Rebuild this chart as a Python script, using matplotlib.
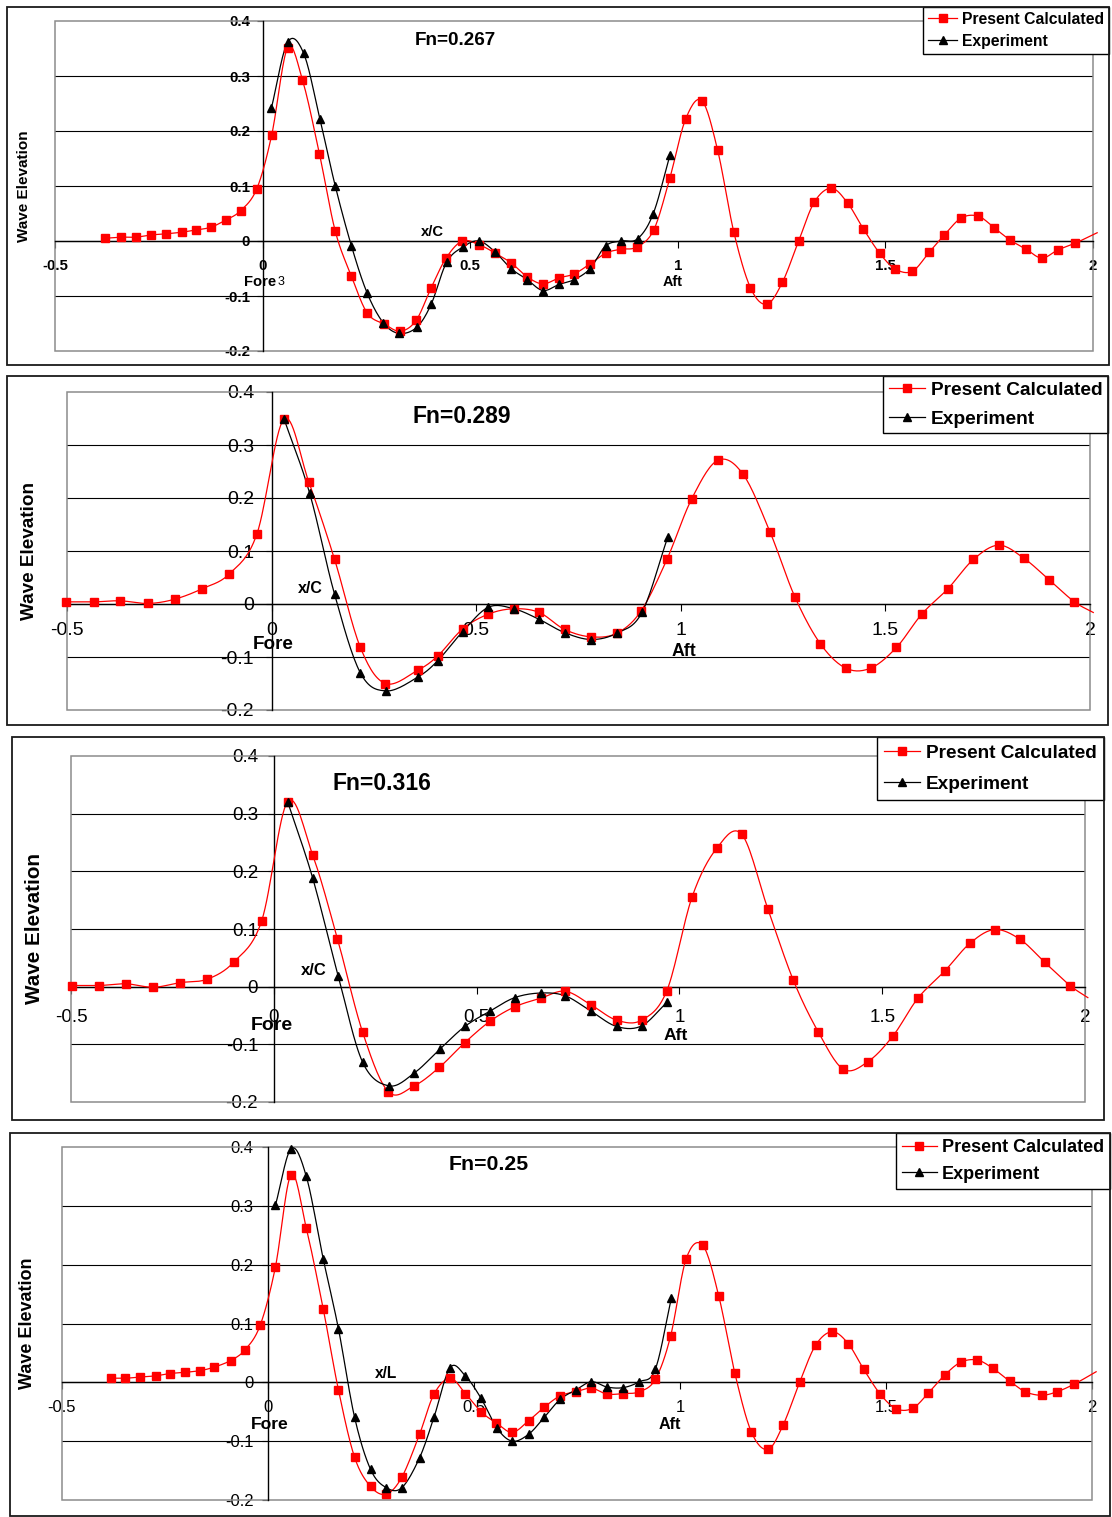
import numpy as np
import matplotlib
matplotlib.use('Agg')
import matplotlib.pyplot as plt
from matplotlib.patches import Rectangle
from matplotlib.lines import Line2D

plt.rcParams['font.family'] = ['Liberation Sans', 'DejaVu Sans']
plt.rcParams['axes.unicode_minus'] = False

W, H = 1112, 1517

# ---- data ----
x_ticks = [-0.5, 0, 0.5, 1, 1.5, 2]
x_tick_labels = ['-0.5', '0', '0.5', '1', '1.5', '2']
y_ticks = [-0.2, -0.1, 0, 0.1, 0.2, 0.3, 0.4]
y_tick_labels = ['-0.2', '-0.1', '0', '0.1', '0.2', '0.3', '0.4']
series_labels = ['Present Calculated', 'Experiment']

# Fn=0.267
fn267_calc_x = [-0.380, -0.341, -0.305, -0.269, -0.233, -0.195, -0.161, -0.125, -0.089, -0.053,
                -0.014, 0.022, 0.060, 0.096, 0.137, 0.175, 0.214, 0.252, 0.293, 0.332,
                0.370, 0.406, 0.442, 0.481, 0.522, 0.560, 0.599, 0.637, 0.675, 0.714,
                0.750, 0.788, 0.827, 0.863, 0.901, 0.942, 0.981, 1.019, 1.058, 1.096,
                1.135, 1.175, 1.214, 1.252, 1.291, 1.329, 1.370, 1.409, 1.447, 1.486,
                1.524, 1.565, 1.606, 1.642, 1.683, 1.724, 1.762, 1.800, 1.839, 1.877,
                1.916, 1.957]
fn267_calc_y = [0.005, 0.007, 0.007, 0.011, 0.013, 0.016, 0.020, 0.025, 0.038, 0.055,
                0.095, 0.193, 0.351, 0.293, 0.158, 0.018, -0.064, -0.131, -0.151, -0.164,
                -0.144, -0.085, -0.031, 0.000, -0.007, -0.022, -0.040, -0.065, -0.078, -0.067,
                -0.060, -0.042, -0.022, -0.015, -0.011, 0.020, 0.115, 0.222, 0.255, 0.165,
                0.016, -0.085, -0.115, -0.075, 0.000, 0.071, 0.096, 0.069, 0.022, -0.022,
                -0.051, -0.055, -0.020, 0.011, 0.042, 0.045, 0.024, 0.002, -0.015, -0.031,
                -0.016, -0.004]
fn267_calc_tail = (2.01, 0.015)
fn267_exp_x = [0.021, 0.060, 0.099, 0.138, 0.175, 0.214, 0.252, 0.291, 0.329, 0.371,
               0.406, 0.443, 0.482, 0.521, 0.560, 0.598, 0.637, 0.675, 0.714, 0.751,
               0.789, 0.826, 0.864, 0.903, 0.941, 0.981]
fn267_exp_y = [0.241, 0.361, 0.341, 0.222, 0.100, -0.009, -0.095, -0.149, -0.168, -0.157,
               -0.115, -0.039, -0.011, 0.000, -0.020, -0.050, -0.070, -0.090, -0.079, -0.070,
               -0.050, -0.009, 0.000, 0.004, 0.050, 0.156]

# Fn=0.289
fn289_calc_x = [-0.503, -0.434, -0.370, -0.302, -0.237, -0.169, -0.103, -0.036, 0.030, 0.091,
                0.154, 0.217, 0.278, 0.357, 0.406, 0.467, 0.530, 0.592, 0.654, 0.716,
                0.781, 0.844, 0.903, 0.966, 1.027, 1.090, 1.152, 1.218, 1.279, 1.341,
                1.403, 1.464, 1.527, 1.589, 1.653, 1.715, 1.777, 1.839, 1.901, 1.962]
fn289_calc_y = [0.004, 0.004, 0.006, 0.001, 0.009, 0.029, 0.057, 0.132, 0.349, 0.230,
                0.084, -0.082, -0.150, -0.125, -0.098, -0.047, -0.019, -0.009, -0.016, -0.048,
                -0.062, -0.055, -0.013, 0.084, 0.199, 0.271, 0.245, 0.136, 0.013, -0.075,
                -0.121, -0.121, -0.082, -0.019, 0.029, 0.084, 0.111, 0.086, 0.045, 0.004]
fn289_calc_tail = (2.008, -0.016)
fn289_exp_x = [0.030, 0.093, 0.154, 0.217, 0.280, 0.357, 0.406, 0.467, 0.530, 0.592,
               0.654, 0.716, 0.781, 0.844, 0.905, 0.968]
fn289_exp_y = [0.350, 0.209, 0.018, -0.130, -0.164, -0.138, -0.107, -0.052, -0.006, -0.009,
               -0.029, -0.054, -0.067, -0.055, -0.016, 0.126]

# Fn=0.316
fn316_calc_x = [-0.497, -0.430, -0.365, -0.297, -0.231, -0.164, -0.098, -0.030, 0.034, 0.096,
                0.157, 0.219, 0.282, 0.346, 0.408, 0.471, 0.533, 0.594, 0.658, 0.719,
                0.783, 0.845, 0.907, 0.969, 1.031, 1.092, 1.154, 1.218, 1.281, 1.342,
                1.404, 1.465, 1.527, 1.588, 1.654, 1.716, 1.777, 1.840, 1.901, 1.963]
fn316_calc_y = [0.002, 0.002, 0.005, -0.001, 0.007, 0.013, 0.043, 0.114, 0.321, 0.228,
                0.083, -0.079, -0.182, -0.172, -0.140, -0.097, -0.060, -0.035, -0.020, -0.008,
                -0.032, -0.058, -0.058, -0.007, 0.155, 0.240, 0.264, 0.135, 0.011, -0.078,
                -0.143, -0.130, -0.085, -0.020, 0.027, 0.075, 0.099, 0.082, 0.042, 0.002]
fn316_calc_tail = (2.007, -0.019)
fn316_exp_x = [0.034, 0.096, 0.159, 0.219, 0.284, 0.346, 0.410, 0.471, 0.534, 0.594,
               0.658, 0.719, 0.783, 0.845, 0.907, 0.969]
fn316_exp_y = [0.321, 0.188, 0.018, -0.131, -0.172, -0.150, -0.108, -0.069, -0.042, -0.019,
               -0.011, -0.016, -0.043, -0.069, -0.068, -0.027]

# Fn=0.25
fn250_calc_x = [-0.382, -0.346, -0.311, -0.273, -0.237, -0.202, -0.164, -0.130, -0.091, -0.056,
                -0.019, 0.018, 0.056, 0.093, 0.134, 0.171, 0.210, 0.249, 0.287, 0.325,
                0.368, 0.403, 0.442, 0.479, 0.517, 0.554, 0.593, 0.633, 0.671, 0.709,
                0.747, 0.785, 0.823, 0.862, 0.901, 0.940, 0.977, 1.015, 1.055, 1.094,
                1.133, 1.173, 1.213, 1.250, 1.291, 1.329, 1.369, 1.408, 1.446, 1.486,
                1.525, 1.565, 1.603, 1.642, 1.681, 1.721, 1.759, 1.800, 1.838, 1.878,
                1.915, 1.957]
fn250_calc_y = [0.007, 0.007, 0.009, 0.011, 0.015, 0.017, 0.020, 0.026, 0.037, 0.055,
                0.097, 0.196, 0.353, 0.262, 0.125, -0.013, -0.127, -0.177, -0.190, -0.161,
                -0.088, -0.020, 0.007, -0.019, -0.050, -0.069, -0.085, -0.065, -0.042, -0.023,
                -0.016, -0.010, -0.020, -0.019, -0.016, 0.005, 0.078, 0.210, 0.233, 0.147,
                0.016, -0.084, -0.114, -0.073, 0.001, 0.063, 0.086, 0.066, 0.022, -0.020,
                -0.045, -0.044, -0.018, 0.012, 0.034, 0.038, 0.024, 0.002, -0.016, -0.022,
                -0.016, -0.003]
fn250_calc_tail = (2.01, 0.018)
fn250_exp_x = [0.018, 0.056, 0.093, 0.134, 0.171, 0.210, 0.249, 0.287, 0.325, 0.368,
               0.403, 0.442, 0.479, 0.517, 0.556, 0.593, 0.633, 0.671, 0.709, 0.747,
               0.785, 0.823, 0.862, 0.901, 0.940, 0.979]
fn250_exp_y = [0.301, 0.397, 0.350, 0.210, 0.091, -0.059, -0.148, -0.179, -0.179, -0.128,
               -0.059, 0.025, 0.011, -0.027, -0.078, -0.100, -0.088, -0.059, -0.029, -0.013,
               0.001, -0.008, -0.009, 0.001, 0.022, 0.143]


def smooth(x, y, steps=16):
    # excel style smoothed line (catmull-rom through the points)
    x = np.asarray(x, float)
    y = np.asarray(y, float)
    px = np.r_[2 * x[0] - x[1], x, 2 * x[-1] - x[-2]]
    py = np.r_[2 * y[0] - y[1], y, 2 * y[-1] - y[-2]]
    t = np.linspace(0, 1, steps, endpoint=False)[:, None]

    def cr(p):
        p0, p1, p2, p3 = p[:-3], p[1:-2], p[2:-1], p[3:]
        return 0.5 * (2 * p1 + (p2 - p0) * t + (2 * p0 - 5 * p1 + 4 * p2 - p3) * t ** 2
                      + (-p0 + 3 * p1 - 3 * p2 + p3) * t ** 3)

    sx = cr(px).T.ravel()
    sy = cr(py).T.ravel()
    return np.r_[sx, x[-1]], np.r_[sy, y[-1]]


panels = [
    dict(title='Fn=0.267', calc=(fn267_calc_x, fn267_calc_y, fn267_calc_tail),
         exp=(fn267_exp_x, fn267_exp_y),
         frame=(7, 7, 1109, 365), plot=(55, 21, 1093, 351), legend=(1109, 7),
         tick_size=10.8, tick_bold=True, ypad=5, xpad=8,
         ylabel_size=11, ylabel_px=24, title_size=13.6, title_xy=(0.464, 0.365),
         legend_size=11.3, leg_space=0.46, leg_pad=0.3,
         xc='x/C', xc_xy=(0.409, 0.016), xc_size=10.6,
         fore_xy=(-0.007, -0.075), fore_size=10.6, fore_note=(0.045, -0.075),
         aft_xy=(0.988, -0.075), aft_size=10.4),
    dict(title='Fn=0.289', calc=(fn289_calc_x, fn289_calc_y, fn289_calc_tail),
         exp=(fn289_exp_x, fn289_exp_y),
         frame=(7, 376, 1108, 725), plot=(67, 392, 1090, 710), legend=(1108, 376),
         tick_size=14, tick_bold=False, ypad=8.6, xpad=8,
         ylabel_size=13.6, ylabel_px=29, title_size=16.5, title_xy=(0.465, 0.353),
         legend_size=13.8, leg_space=0.58, leg_pad=0.29,
         xc='x/C', xc_xy=(0.095, 0.030), xc_size=11.5,
         fore_xy=(0.005, -0.077), fore_size=13.6, fore_note=None,
         aft_xy=(1.007, -0.089), aft_size=12.8),
    dict(title='Fn=0.316', calc=(fn316_calc_x, fn316_calc_y, fn316_calc_tail),
         exp=(fn316_exp_x, fn316_exp_y),
         frame=(12, 737, 1104, 1120), plot=(71, 756, 1085, 1102), legend=(1104, 737),
         tick_size=13.5, tick_bold=False, ypad=7.2, xpad=11,
         ylabel_size=14.9, ylabel_px=35, title_size=16.5, title_xy=(0.266, 0.352),
         legend_size=13.7, leg_space=0.74, leg_pad=0.38,
         xc='x/C', xc_xy=(0.099, 0.028), xc_size=12,
         fore_xy=(-0.005, -0.068), fore_size=14, fore_note=None,
         aft_xy=(0.990, -0.085), aft_size=12.6),
    dict(title='Fn=0.25', calc=(fn250_calc_x, fn250_calc_y, fn250_calc_tail),
         exp=(fn250_exp_x, fn250_exp_y),
         frame=(10, 1133, 1110, 1516), plot=(62, 1147, 1092, 1500), legend=(1110, 1133),
         tick_size=12, tick_bold=False, ypad=6.5, xpad=8,
         ylabel_size=13, ylabel_px=28, title_size=15.3, title_xy=(0.536, 0.371),
         legend_size=13, leg_space=0.54, leg_pad=0.33,
         xc='x/L', xc_xy=(0.286, 0.015), xc_size=11.2,
         fore_xy=(0.005, -0.071), fore_size=12.6, fore_note=None,
         aft_xy=(0.976, -0.071), aft_size=11.6),
]


def draw_panel(fig, p):
    fx0, fy0, fx1, fy1 = p['frame']
    fig.add_artist(Rectangle((fx0 / W, 1 - fy1 / H), (fx1 - fx0) / W, (fy1 - fy0) / H,
                             transform=fig.transFigure, fill=False,
                             edgecolor='#1a1a1a', lw=1.3))

    left, top, right, bottom = p['plot']
    ax = fig.add_axes([left / W, 1 - bottom / H, (right - left) / W, (bottom - top) / H])
    ax.set_xlim(-0.5, 2)
    ax.set_ylim(-0.2, 0.4)
    ax.patch.set_alpha(0)

    # plot area border in grey
    ax.add_patch(Rectangle((0, 0), 1, 1, transform=ax.transAxes, fill=False,
                           edgecolor='#8c8c8c', lw=1.1, clip_on=False, zorder=1.2))
    ax.spines['top'].set_visible(False)
    ax.spines['right'].set_visible(False)
    ax.spines['left'].set_position(('data', 0))
    ax.spines['bottom'].set_position(('data', 0))
    for s in ('left', 'bottom'):
        ax.spines[s].set_color('black')
        ax.spines[s].set_linewidth(1.0)

    ax.set_xticks(x_ticks)
    ax.set_xticklabels(x_tick_labels)
    ax.set_yticks(y_ticks)
    ax.set_yticklabels(y_tick_labels)
    weight = 'bold' if p['tick_bold'] else 'normal'
    ax.tick_params(axis='x', direction='out', length=5, width=0.8, pad=p['xpad'],
                   labelsize=p['tick_size'])
    ax.tick_params(axis='y', direction='out', length=4, width=0.8, pad=p['ypad'],
                   labelsize=p['tick_size'])
    for lab in ax.get_xticklabels() + ax.get_yticklabels():
        lab.set_fontweight(weight)

    ax.yaxis.grid(True, color='black', lw=0.8)
    ax.set_axisbelow(True)
    grid = ax.get_ygridlines()
    grid[0].set_visible(False)
    grid[-1].set_visible(False)

    ax.set_ylabel('Wave Elevation', fontsize=p['ylabel_size'], fontweight='bold')
    ax.yaxis.label.set_va('center')
    ax.yaxis.set_label_coords((p['ylabel_px'] - left) / (right - left), 0.5)

    cx, cy, tail = p['calc']
    sx, sy = smooth(list(cx) + [tail[0]], list(cy) + [tail[1]])
    ax.plot(sx, sy, color='#ff0000', lw=0.9, zorder=3, clip_on=False)
    ax.plot(cx, cy, 's', color='#ff0000', ms=5.4, zorder=4, clip_on=False)

    ex, ey = p['exp']
    sx, sy = smooth(ex, ey)
    ax.plot(sx, sy, color='black', lw=0.9, zorder=3.5, clip_on=False)
    ax.plot(ex, ey, '^', color='black', ms=6, zorder=4.5, clip_on=False)

    ax.text(*p['title_xy'], p['title'], fontsize=p['title_size'], fontweight='bold',
            ha='center', va='center')
    ax.text(*p['xc_xy'], p['xc'], fontsize=p['xc_size'], fontweight='bold',
            ha='center', va='center')
    ax.text(*p['fore_xy'], 'Fore', fontsize=p['fore_size'], fontweight='bold',
            ha='center', va='center', zorder=5)
    if p['fore_note'] is not None:
        ax.text(*p['fore_note'], '3', fontsize=p['fore_size'] * 0.85,
                ha='center', va='center')
    ax.text(*p['aft_xy'], 'Aft', fontsize=p['aft_size'], fontweight='bold',
            ha='center', va='center', zorder=5)

    handles = [Line2D([], [], color='#ff0000', lw=0.9, marker='s', ms=5.4),
               Line2D([], [], color='black', lw=0.9, marker='^', ms=6)]
    lx, ly = p['legend']
    leg = ax.legend(handles, series_labels, loc='upper right',
                    bbox_to_anchor=(lx / W, 1 - ly / H), bbox_transform=fig.transFigure,
                    borderaxespad=0, frameon=True, fancybox=False, framealpha=1,
                    edgecolor='black', prop=dict(size=p['legend_size'], weight='bold'),
                    handlelength=1.9, handletextpad=0.3, labelspacing=p['leg_space'],
                    borderpad=p['leg_pad'])
    leg.get_frame().set_linewidth(1.0)
    return ax


fig = plt.figure(figsize=(W / 100, H / 100), dpi=100)
for p in panels:
    draw_panel(fig, p)

fig.savefig('out.png', dpi=100)
